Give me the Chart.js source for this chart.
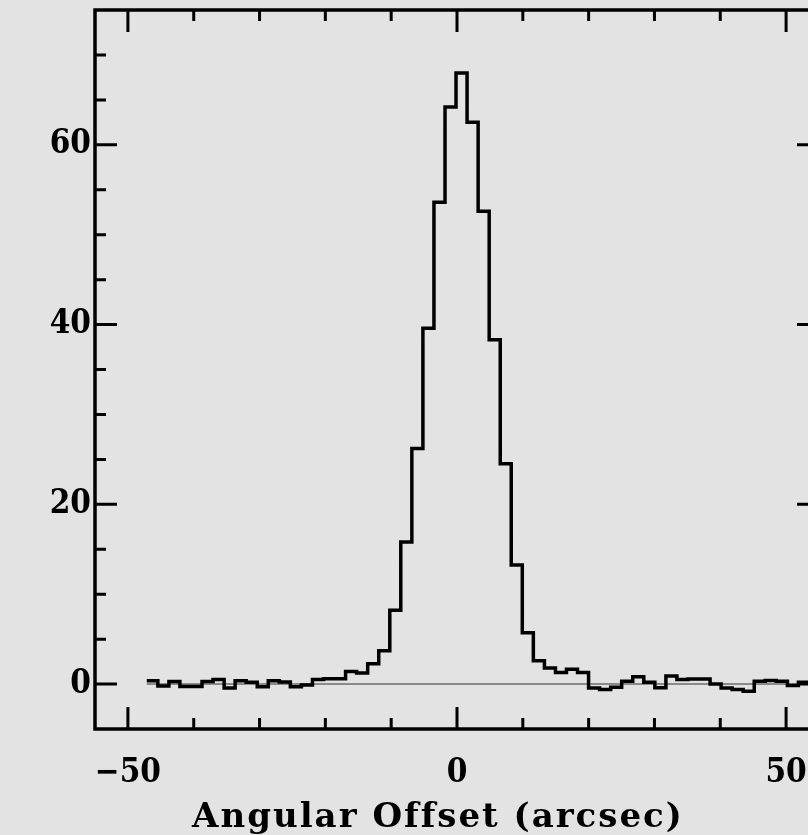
<!DOCTYPE html>
<html>
<head>
<meta charset="utf-8">
<title>Angular Offset profile</title>
<script src="https://cdn.jsdelivr.net/npm/chart.js@4.4.1/dist/chart.umd.min.js"></script>
<style>
  html, body { margin: 0; padding: 0; background: #e3e3e3; overflow: hidden; }
  #wrap { width: 830px; height: 835px; }
</style>
</head>
<body>
<div id="wrap"><canvas id="profileChart" width="830" height="835"></canvas></div>
<script>
// Bin centres (arcsec) and binned profile values
const offsets = [
  -46.29, -44.61, -42.93, -41.26, -39.58, -37.90, -36.22, -34.54, -32.87, -31.19,
  -29.51, -27.83, -26.15, -24.48, -22.80, -21.12, -19.44, -17.76, -16.09, -14.41,
  -12.73, -11.05, -9.37, -7.70, -6.02, -4.34, -2.66, -0.98, 0.69, 2.37,
  4.05, 5.73, 7.41, 9.08, 10.76, 12.44, 14.12, 15.80, 17.47, 19.15,
  20.83, 22.51, 24.19, 25.86, 27.54, 29.22, 30.90, 32.58, 34.25, 35.93,
  37.61, 39.29, 40.97, 42.64, 44.32, 46.00, 47.68, 49.36, 51.04, 52.71,
  54.39
];
const counts = [
  0.38, -0.22, 0.28, -0.28, -0.28, 0.28, 0.5, -0.45, 0.36, 0.2,
  -0.3, 0.37, 0.22, -0.3, -0.1, 0.5, 0.6, 0.6, 1.4, 1.22,
  2.25, 3.7, 8.2, 15.8, 26.2, 39.6, 53.6, 64.2, 68.0, 62.5,
  52.6, 38.3, 24.5, 13.25, 5.7, 2.6, 1.8, 1.3, 1.65, 1.3,
  -0.45, -0.6, -0.35, 0.3, 0.8, 0.2, -0.4, 0.9, 0.5, 0.55,
  0.55, 0.0, -0.45, -0.6, -0.8, 0.3, 0.4, 0.3, -0.15, 0.2,
  0.1
];
const baseline = 0;

// Axis ticks
const xLabelTicks = [-50, 0, 50];
const xMinorTicks = [-40, -30, -20, -10, 10, 20, 30, 40];
const yLabelTicks = [0, 20, 40, 60];
const yMinorTicks = [5, 10, 15, 25, 30, 35, 45, 50, 55, 65, 70];
const xTitle = 'Angular Offset (arcsec)';

const TICK_FONT = "'DejaVu Serif Condensed', 'DejaVu Serif', serif";
const TITLE_FONT = "'DejaVu Serif', serif";

// histogram edges: each bin runs from centre - half to centre + half
const half = (offsets[1] - offsets[0]) / 2;
const steps = offsets.map((c, i) => ({ x: c - half, y: counts[i] }));
steps.push({ x: offsets[offsets.length - 1] + half, y: counts[counts.length - 1] });

const zeroLine = [
  { x: offsets[0] - half, y: baseline },
  { x: 55, y: baseline }
];

// frame + inward ticks on all four sides, and the x title
const frameTicks = {
  id: 'frameTicks',
  afterDatasetsDraw(chart) {
    const { ctx, chartArea: a, scales: { x, y } } = chart;
    const major = 22, minor = 11;
    ctx.save();
    ctx.strokeStyle = '#000';
    ctx.lineCap = 'butt';
    ctx.lineWidth = 3;
    ctx.beginPath();
    const xTick = (v, len) => {
      const px = x.getPixelForValue(v);
      ctx.moveTo(px, a.bottom); ctx.lineTo(px, a.bottom - len);
      ctx.moveTo(px, a.top); ctx.lineTo(px, a.top + len);
    };
    const yTick = (v, len) => {
      const py = y.getPixelForValue(v);
      ctx.moveTo(a.left, py); ctx.lineTo(a.left + len, py);
      ctx.moveTo(a.right, py); ctx.lineTo(a.right - len, py);
    };
    xLabelTicks.forEach(v => xTick(v, major));
    xMinorTicks.forEach(v => xTick(v, minor));
    yLabelTicks.forEach(v => yTick(v, major));
    yMinorTicks.forEach(v => yTick(v, minor));
    ctx.stroke();

    ctx.lineWidth = 3.5;
    ctx.strokeRect(a.left, a.top, a.right - a.left, a.bottom - a.top);

    ctx.fillStyle = '#000';
    ctx.font = 'bold 34px ' + TITLE_FONT;
    ctx.letterSpacing = '2px';
    ctx.textAlign = 'center';
    ctx.textBaseline = 'alphabetic';
    ctx.fillText(xTitle, (a.left + a.right) / 2 - 19, 827);
    ctx.restore();
  }
};

const ctx = document.getElementById('profileChart').getContext('2d');
const profileChart = new Chart(ctx, {
  type: 'line',
  data: {
    datasets: [
      {
        data: steps,
        stepped: 'before',
        borderColor: '#000',
        borderWidth: 3.5,
        borderJoinStyle: 'miter',
        pointRadius: 0,
        fill: false
      },
      {
        data: zeroLine,
        borderColor: '#8a8a8a',
        borderWidth: 2,
        pointRadius: 0,
        fill: false
      }
    ]
  },
  options: {
    responsive: false,
    animation: false,
    layout: { padding: { top: 10, right: 11, bottom: 0, left: 0 } },
    plugins: {
      legend: { display: false },
      tooltip: { enabled: false }
    },
    scales: {
      x: {
        type: 'linear',
        min: -55,
        max: 55,
        afterBuildTicks: s => { s.ticks = xLabelTicks.map(v => ({ value: v })); },
        afterFit: s => { s.height = 106; s.paddingLeft = 0; s.paddingRight = 0; },
        grid: { display: false, drawTicks: false },
        border: { display: false },
        ticks: {
          padding: 25,
          color: '#000',
          maxRotation: 0,
          font: { family: TICK_FONT, size: 33, weight: 'bold' },
          callback: v => (v < 0 ? '\u2212' + Math.abs(v) : String(v))
        }
      },
      y: {
        min: -5,
        max: 75,
        afterBuildTicks: s => { s.ticks = yLabelTicks.map(v => ({ value: v })); },
        afterFit: s => { s.width = 95; s.paddingTop = 0; s.paddingBottom = 0; },
        grid: { display: false, drawTicks: false },
        border: { display: false },
        ticks: {
          padding: 4,
          color: '#000',
          font: { family: TICK_FONT, size: 33, weight: 'bold' }
        }
      }
    }
  },
  plugins: [frameTicks]
});
</script>
</body>
</html>
